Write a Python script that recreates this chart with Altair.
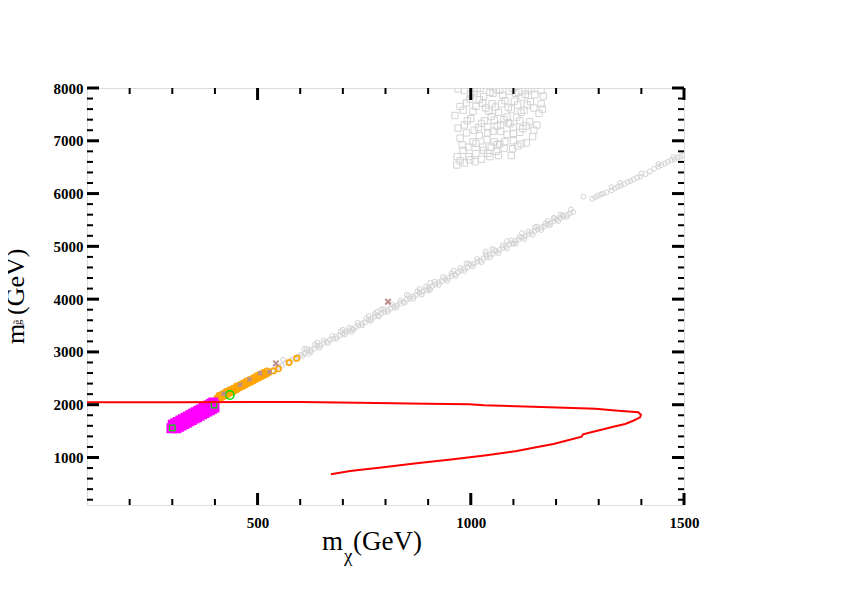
import altair as alt
import pandas as pd

# ---------------- data ----------------
# grey open circles (band)
circ_x = [400, 408, 415, 422, 430, 437, 445, 452, 460, 467, 475, 482, 490, 497, 505, 512, 520, 527, 535, 542,
          550, 557, 565, 572, 580, 587, 595, 602, 610, 617, 625, 632, 640, 647, 655, 662, 670, 677, 685, 692,
          700, 707, 715, 722, 730, 737, 745, 752, 760, 767, 775, 782, 790, 797, 805, 812, 820, 827, 835, 842,
          850, 857, 865, 872, 880, 887, 895, 902, 910, 917, 925, 932, 940, 947, 955, 962, 970, 977, 985, 992,
          1000, 1007, 1015, 1022, 1030, 1037, 1045, 1052, 1060, 1067, 1075, 1082, 1090, 1097, 1105, 1112, 1120, 1127, 1135, 1142,
          1150, 1157, 1165, 1172, 1180, 1187, 1195, 1202, 1210, 1217, 1225, 1232, 1240,
          1285, 1292, 1298, 1305, 1310, 1318, 1330, 1338, 1345, 1352, 1360, 1368, 1375, 1382, 1390, 1398, 1410, 1420,
          1430, 1440, 1447, 1455, 1462, 1470, 1478, 1485, 1492, 1498,
          560, 610, 640, 700, 760, 780, 790, 850, 880, 905, 960, 990, 1035, 1050, 1085, 1120, 1150, 1180, 1195, 1210,
          1264, 1330, 1350, 1400, 1440, 1475, 620, 720, 900, 1100,
          605, 625, 645, 665, 685, 705, 725, 745, 765, 785, 805, 825, 845, 865, 885, 905, 925, 945, 965, 985,
          1005, 1025, 1045, 1065, 1085, 1105, 1125, 1145, 1165, 1185, 1205, 1225,
          615, 635, 655, 675, 695, 715, 735, 755, 775, 795, 815, 835, 855, 875, 895, 915, 935, 955, 975, 995,
          1015, 1035, 1055, 1075, 1095, 1115, 1135, 1155, 1175, 1195, 1215, 1235]
circ_y = [2100, 2150, 2160, 2210, 2230, 2270, 2290, 2330, 2350, 2390, 2410, 2450, 2470, 2510, 2530, 2570, 2590, 2630, 2650, 2690,
          2720, 2740, 2790, 2800, 2850, 2870, 2910, 2950, 2970, 3010, 3040, 3060, 3110, 3120, 3170, 3190, 3230, 3250, 3290, 3310,
          3350, 3380, 3410, 3440, 3470, 3500, 3540, 3560, 3600, 3620, 3670, 3690, 3730, 3760, 3800, 3820, 3860, 3880, 3920, 3950,
          3990, 4010, 4050, 4080, 4120, 4140, 4190, 4210, 4250, 4280, 4320, 4340, 4380, 4400, 4440, 4470, 4510, 4540, 4580, 4600,
          4650, 4670, 4710, 4730, 4770, 4800, 4840, 4860, 4900, 4930, 4970, 5000, 5040, 5060, 5100, 5130, 5170, 5190, 5230, 5260,
          5290, 5320, 5360, 5380, 5420, 5440, 5480, 5510, 5540, 5560, 5600, 5620, 5650,
          5900, 5930, 5960, 5980, 6000, 6020, 6060, 6100, 6130, 6150, 6180, 6220, 6240, 6270, 6300, 6320, 6370, 6420,
          6470, 6510, 6540, 6570, 6600, 6630, 6650, 6680, 6700, 6720,
          2850, 3060, 3180, 3420, 3680, 3760, 3800, 4080, 4190, 4310, 4540, 4680, 4900, 4950, 5100, 5250, 5360, 5480, 5540, 5600,
          5941, 6120, 6200, 6380, 6560, 6690, 2960, 3380, 4160, 5050,
          2920, 3000, 3080, 3170, 3250, 3330, 3420, 3500, 3590, 3670, 3760, 3840, 3930, 4010, 4090, 4180, 4270, 4350, 4440, 4530,
          4620, 4700, 4790, 4870, 4960, 5050, 5140, 5220, 5310, 5400, 5480, 5560,
          3060, 3140, 3220, 3300, 3390, 3460, 3550, 3640, 3720, 3810, 3900, 3970, 4060, 4150, 4240, 4330, 4420, 4490, 4590, 4670,
          4760, 4850, 4930, 5020, 5110, 5180, 5280, 5370, 5430, 5530, 5590, 5700]

# grey open squares (cluster at the top)
sq_x = [985, 1000, 1015, 1030, 1045, 1060, 1075, 1090, 1105, 1120, 1135, 1150,
        975, 990, 1005, 1020, 1035, 1050, 1065, 1080, 1095, 1110, 1125, 1140, 1160,
        963, 985, 1000, 1018, 1032, 1048, 1062, 1078, 1092, 1108, 1122, 1138, 1155,
        975, 990, 1005, 1020, 1038, 1052, 1068, 1085, 1100, 1115, 1130, 1145,
        968, 982, 998, 1012, 1028, 1045, 1060, 1078, 1095, 1110,
        967, 1010, 985, 1170, 1165, 1040, 1070, 1100, 1055, 1085,
        970, 1008, 1022, 1052, 1068, 1098, 1112, 1128, 1142, 1165,
        982, 998, 1012, 1028, 1042, 1058, 1072, 1088, 1102, 1118, 1132, 1148, 1168,
        970, 992, 1008, 1025, 1040, 1055, 1070, 1088, 1100, 1115, 1130, 1148,
        980, 995, 1012, 1030, 1048, 1062, 1080, 1098, 1118,
        975, 995, 1025, 1040, 1065]
sq_y = [7950, 7880, 7990, 7840, 7920, 7970, 7860, 7940, 7900, 7830, 7960, 7870,
        7650, 7720, 7560, 7780, 7620, 7700, 7540, 7760, 7600, 7680, 7580, 7740, 7520,
        7480, 7300, 7420, 7250, 7380, 7460, 7280, 7400, 7320, 7450, 7230, 7360, 7300,
        7050, 7150, 6980, 7100, 7020, 7180, 6940, 7120, 7000, 7160, 6960, 7080,
        6700, 6820, 6640, 6760, 6880, 6700, 6800, 6860, 6720, 6900,
        6541, 6604, 6580, 7850, 7700, 7150, 7300, 7250, 6980, 7450,
        7980, 7930, 7990, 7900, 7960, 7990, 7920, 7880, 7990, 7950,
        7580, 7790, 7650, 7710, 7560, 7640, 7700, 7630, 7750, 7540, 7680, 7620, 7600,
        7240, 7380, 7200, 7330, 7260, 7390, 7180, 7340, 7140, 7380, 7280, 7200,
        6920, 6880, 6950, 6820, 6880, 6930, 6980, 6850, 6940,
        6620, 6700, 6650, 6760, 6720]

# orange open circles
or_x = [400, 404, 408, 411, 415, 418, 422, 425, 429, 432, 436, 440, 443, 447, 450, 454, 457, 461,
        465, 468, 472, 475, 479, 483, 486, 490, 493, 497, 500, 504, 508, 511, 515, 519, 522, 526,
        405, 412, 420, 428, 435, 443, 450, 458, 465, 473, 480, 488, 495, 503, 510, 518,
        410, 418, 426, 434, 442, 450, 458, 466, 474, 482, 490, 498, 506, 514, 522,
        537, 549, 574, 592]
or_y = [2070, 2090, 2100, 2120, 2130, 2150, 2160, 2180, 2190, 2210, 2220, 2240, 2250, 2270, 2280, 2300, 2320, 2330,
        2350, 2360, 2380, 2390, 2410, 2420, 2440, 2450, 2470, 2480, 2500, 2510, 2530, 2540, 2560, 2570, 2590, 2600,
        2130, 2160, 2200, 2230, 2260, 2290, 2320, 2350, 2380, 2410, 2440, 2470, 2500, 2540, 2570, 2600,
        2180, 2210, 2250, 2280, 2310, 2350, 2380, 2410, 2450, 2480, 2510, 2550, 2580, 2610, 2640,
        2640, 2680, 2800, 2880]

# magenta open squares
mg_x = [298, 304, 310, 316, 322, 328, 334, 340, 346, 352, 358, 364, 370, 376, 382, 388, 394, 398,
        301, 307, 313, 319, 325, 331, 337, 343, 349, 355, 361, 367, 373, 379, 385, 391, 396,
        310, 316, 322, 328, 334, 340, 346, 352, 358, 364, 370, 376, 382, 388, 394, 399]
mg_y = [1555, 1580, 1608, 1635, 1661, 1687, 1713, 1740, 1766, 1792, 1819, 1845, 1872, 1898, 1925, 1950, 1977, 1995,
        1620, 1647, 1673, 1700, 1726, 1752, 1779, 1805, 1832, 1858, 1885, 1911, 1938, 1964, 1990, 2017, 2040,
        1553, 1580, 1606, 1632, 1658, 1685, 1711, 1737, 1764, 1790, 1817, 1843, 1870, 1896, 1922, 1945]

# green points
gs_x = [300, 398]
gs_y = [1560, 1990]
gc_x = [435]
gc_y = [2185]

# rosy crosses
xs_small_x = [420, 459, 481, 506, 528]
xs_small_y = [2210, 2380, 2480, 2595, 2620]
xs_big_x = [543, 806]
xs_big_y = [2784, 3951]

# red contour
red_x = [100, 300, 600, 735, 897, 996, 1031, 1146, 1221, 1293, 1319, 1346, 1393, 1399, 1397, 1381, 1362,
         1334, 1311, 1287, 1263, 1260, 1221, 1194, 1147, 1108, 1037, 959, 873, 795, 717, 672]
red_y = [2045, 2048, 2050, 2037, 2018, 2007, 1988, 1962, 1943, 1924, 1905, 1886, 1856, 1810, 1761, 1696, 1634,
         1583, 1534, 1488, 1439, 1393, 1312, 1255, 1185, 1123, 1041, 965, 889, 813, 743, 681]

# ticks
x_major = [500, 1000, 1500]
x_minor = [200, 300, 400, 600, 700, 800, 900, 1100, 1200, 1300, 1400]
y_major = [1000, 2000, 3000, 4000, 5000, 6000, 7000, 8000]
y_minor = [200, 400, 600, 800, 1200, 1400, 1600, 1800, 2200, 2400, 2600, 2800, 3200, 3400, 3600, 3800,
           4200, 4400, 4600, 4800, 5200, 5400, 5600, 5800, 6200, 6400, 6600, 6800, 7200, 7400, 7600, 7800]

x_title = ["m", "χ", "(GeV)"]
y_title = ["m", "g̃", "(GeV)"]

# ---------------- chart ----------------
W, H = 597, 417
XS = alt.Scale(domain=[100, 1500], nice=False, zero=False)
YS = alt.Scale(domain=[100, 8000], nice=False, zero=False)
FONT = "Liberation Serif"

x_axis = alt.Axis(values=x_major, format="d", title=None, ticks=False, domain=False, grid=False,
                  labelPadding=10, labelFont=FONT, labelFontWeight="bold", labelFontSize=15,
                  labelColor="black", labelFlush=False, labelOverlap=False)
y_axis = alt.Axis(values=y_major, format="d", title=None, ticks=False, domain=False, grid=False,
                  labelPadding=4, labelFont=FONT, labelFontWeight="bold", labelFontSize=15,
                  labelColor="black", labelFlush=False, labelOverlap=False)


def df(xs, ys):
    return pd.DataFrame({"x": xs, "y": ys})


def X():
    return alt.X("x:Q", scale=XS, axis=x_axis, title=None)


def Y():
    return alt.Y("y:Q", scale=YS, axis=y_axis, title=None)


grey = "#d3d3d3"

squares = alt.Chart(df(sq_x, sq_y)).mark_point(shape="square", size=40, filled=False, color=grey,
                                                strokeWidth=1, opacity=1, clip=True).encode(x=X(), y=Y())
circles = alt.Chart(df(circ_x, circ_y)).mark_point(shape="circle", size=24, filled=False, color=grey,
                                                   strokeWidth=1, opacity=1, clip=True).encode(x=X(), y=Y())
orange = alt.Chart(df(or_x, or_y)).mark_point(shape="circle", size=28, filled=False, color="#ffa500",
                                              strokeWidth=1.6, opacity=1, clip=True).encode(x=X(), y=Y())
magenta = alt.Chart(df(mg_x, mg_y)).mark_point(shape="square", size=60, filled=False, color="#ff00ff",
                                               strokeWidth=2.2, opacity=1, clip=True).encode(x=X(), y=Y())
green_sq = alt.Chart(df(gs_x, gs_y)).mark_point(shape="square", size=30, filled=False, color="#00dd00",
                                                strokeWidth=1.2, opacity=1, clip=True).encode(x=X(), y=Y())
green_c = alt.Chart(df(gc_x, gc_y)).mark_point(shape="circle", size=70, filled=False, color="#00dd00",
                                               strokeWidth=1.5, opacity=1, clip=True).encode(x=X(), y=Y())
XPATH = "M-1,-1L1,1M1,-1L-1,1"
cross_s = alt.Chart(df(xs_small_x, xs_small_y)).mark_point(shape=XPATH, size=16, filled=False, color="#bc8f8f",
                                                           strokeWidth=2, opacity=1, clip=True).encode(x=X(), y=Y())
cross_b = alt.Chart(df(xs_big_x, xs_big_y)).mark_point(shape=XPATH, size=30, filled=False, color="#bc8f8f",
                                                       strokeWidth=2, opacity=1, clip=True).encode(x=X(), y=Y())
red_df = df(red_x, red_y)
red_df["i"] = range(len(red_df))
red = alt.Chart(red_df).mark_line(color="#ff0000", strokeWidth=2, clip=True).encode(
    x=X(), y=Y(), order=alt.Order("i:Q"))


# inward ticks on all four sides
def xticks(vals, L, w):
    d = pd.DataFrame({"x": vals})
    b = alt.Chart(d).mark_rule(color="black", strokeWidth=w).encode(x=X(), y=alt.value(H), y2=alt.value(H - L))
    t = alt.Chart(d).mark_rule(color="black", strokeWidth=w).encode(x=X(), y=alt.value(0), y2=alt.value(L))
    return [b, t]


def yticks(vals, L, w):
    d = pd.DataFrame({"y": vals})
    l = alt.Chart(d).mark_rule(color="black", strokeWidth=w).encode(y=Y(), x=alt.value(0), x2=alt.value(L))
    r = alt.Chart(d).mark_rule(color="black", strokeWidth=w).encode(y=Y(), x=alt.value(W), x2=alt.value(W - L))
    return [l, r]


tick_layers = xticks(x_major, 12, 3) + xticks(x_minor, 6, 2) + yticks(y_major, 12, 3) + yticks(y_minor, 6, 2)


def label(txt, px, py, size, angle=0):
    return alt.Chart(pd.DataFrame({"t": [txt]})).mark_text(
        font=FONT, fontSize=size, color="black", align="left", baseline="alphabetic", angle=angle
    ).encode(text="t:N", x=alt.value(px), y=alt.value(py))


titles = [
    label(x_title[0], 235, 462, 27),
    label(x_title[1], 257, 474, 19),
    label(x_title[2], 266, 462, 27),
    label(y_title[0], -63, 256, 26, 270),
    label(y_title[1], -66, 237, 11, 270),
    label(y_title[2], -63, 227, 26, 270),
]

chart = alt.layer(
    squares, circles, orange, magenta, green_sq, green_c, cross_s, cross_b, red, *tick_layers, *titles
).properties(
    width=W, height=H,
    autosize=alt.AutoSizeParams(type="none"),
    padding={"left": 79, "top": 80, "right": 150, "bottom": 82},
).configure_view(stroke="black", strokeWidth=3).configure(background="white")

chart.save("out.html", embed_options={"renderer": "svg", "actions": False})
